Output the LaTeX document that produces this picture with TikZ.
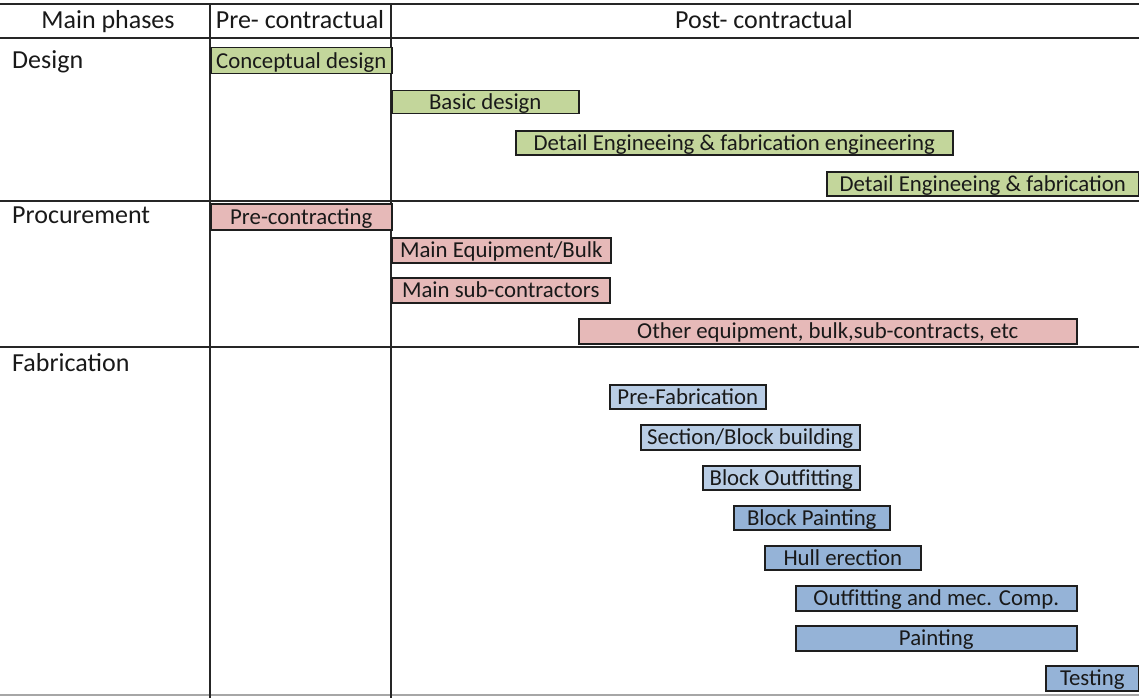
\documentclass[tikz,border=0pt]{standalone}
\usepackage{fontspec}
\setmainfont{Carlito}
\definecolor{grn}{HTML}{C3D69B}
\definecolor{pnk}{HTML}{E6B9B8}
\definecolor{bluL}{HTML}{B9CDE5}
\definecolor{bluD}{HTML}{95B3D7}
\definecolor{edge}{HTML}{1E1E1E}
\tikzset{
  grid/.style={line width=1.6pt, draw=black!85},
  bar/.style={draw=edge, line width=1.5pt, anchor=north west, inner sep=0pt,
    text height=14.7pt, text depth=0pt,
    font=\fontsize{22.8}{26}\selectfont, text=black!90},
  hdr/.style={font=\fontsize{26}{30}\selectfont, text=black!90, inner sep=0pt,
    text height=16.7pt, text depth=0pt},
  phase/.style={font=\fontsize{26}{30}\selectfont, text=black!90, inner sep=0pt, anchor=west,
    text height=16.7pt, text depth=0pt},
}
\newcommand{\gbar}[7]{% name, x1, y1, x2, y2, fill, text
  \node[bar, fill=#6, minimum width={(#4-#2)*1pt}, minimum height={(#5-#3)*1pt}] (#1) at (#2,#3) {#7};}
\begin{document}
\begin{tikzpicture}[x=1pt,y=-1pt]
\useasboundingbox (0,0) rectangle (1139,698);
% grid lines
\draw[grid] (0,4) -- (1139,4);
\draw[grid] (0,38) -- (1139,38);
\draw[grid] (0,201) -- (1139,201);
\draw[grid] (0,347) -- (1139,347);
\draw[line width=1.6pt, draw=black!35] (0,695) -- (1139,695);
\draw[grid] (210,4) -- (210,698);
\draw[grid] (391,4) -- (391,698);
% headers
\node[hdr] (h1) at (108,20) {Main phases};
\node[hdr] (h2) at (300,20) {Pre- contractual};
\node[hdr] (h3) at (764,20) {Post- contractual};
% phase labels
\node[phase] (pd) at (12,60) {Design};
\node[phase] (pp) at (12,215) {Procurement};
\node[phase] (pf) at (12,363) {Fabrication};
% design bars
\gbar{b1}{210}{47}{391}{73}{grn}{Conceptual design}
\gbar{b2}{391}{90}{578}{113}{grn}{Basic design}
\gbar{b3}{515}{130}{952}{154}{grn}{Detail Engineeing \& fabrication engineering}
\gbar{b4}{826}{171}{1138}{195}{grn}{Detail Engineeing \& fabrication}
% procurement bars
\gbar{c1}{210}{203}{391}{229}{pnk}{Pre-contracting}
\gbar{c2}{391}{237}{610}{262}{pnk}{Main Equipment/Bulk}
\gbar{c3}{391}{277}{609}{302}{pnk}{Main sub-contractors}
\gbar{c4}{578}{318}{1076}{343}{pnk}{Other equipment, bulk,sub-contracts, etc}
% fabrication bars
\gbar{f1}{609}{384}{765}{408}{bluL}{Pre-Fabrication}
\gbar{f2}{640}{424}{859}{449}{bluL}{Section/Block building}
\gbar{f3}{702}{465}{859}{489}{bluL}{Block Outfitting}
\gbar{f4}{733}{505}{889}{529}{bluD}{Block Painting}
\gbar{f5}{764}{545}{920}{569}{bluD}{Hull erection}
\gbar{f6}{795}{585}{1076}{610}{bluD}{Outfitting and mec. Comp.}
\gbar{f7}{795}{625}{1076}{650}{bluD}{Painting}
\gbar{f8}{1045}{665}{1138}{690}{bluD}{Testing}
\end{tikzpicture}
\end{document}
